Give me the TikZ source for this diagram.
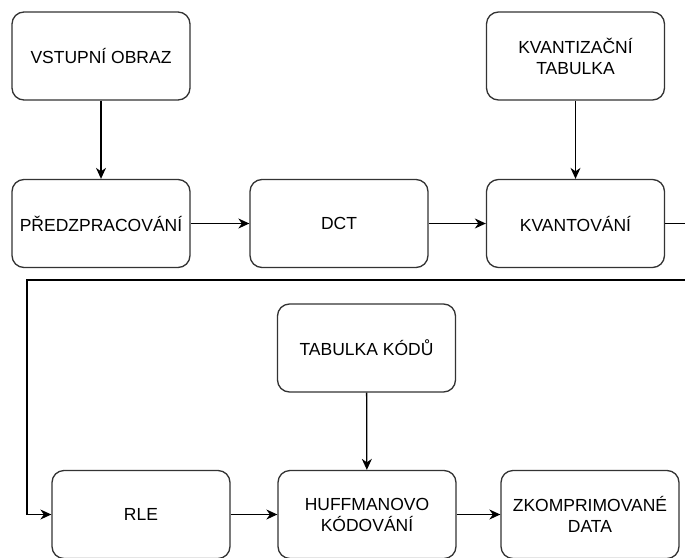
\documentclass[tikz,border=0pt]{standalone}
\usepackage{fontspec}
\setmainfont{Liberation Sans}
\usetikzlibrary{arrows.meta}
\begin{document}
\begin{tikzpicture}[x=1pt,y=-1pt,
  block/.style={draw=black!80, line width=1.3pt, rounded corners=12pt,
    minimum width=178pt, minimum height=88pt, align=center, fill=white,
    font=\fontsize{17.5}{21}\selectfont, inner sep=0pt},
  link/.style={draw=black, line width=1.3pt,
    -{Stealth[length=11pt,width=10pt,inset=3.5pt]}}]
  \useasboundingbox (0,0) rectangle (685,557);
  \clip (0,0) rectangle (685,557);

  % upper row
  \node[block] (vstup) at (101,56) {VSTUPNÍ OBRAZ};
  \node[block] (kvtab) at (575.5,56) {KVANTIZAČNÍ\\TABULKA};
  \node[block] (pred) at (101,223.5) {PŘEDZPRACOVÁNÍ};
  \node[block] (dct) at (339,223.5) {DCT};
  \node[block] (kvant) at (575.5,223.5) {KVANTOVÁNÍ};

  % lower part
  \node[block] (tabk) at (366.5,348) {TABULKA KÓDŮ};
  \node[block] (rle) at (141,514.5) {RLE};
  \node[block] (huff) at (367,514.5) {HUFFMANOVO\\KÓDOVÁNÍ};
  \node[block] (zkomp) at (590,514.5) {ZKOMPRIMOVANÉ\\DATA};

  % wrap-around route from the upper row to the lower row
  \coordinate (r1) at (700,223.5);
  \coordinate (r2) at (700,280);
  \coordinate (r3) at (27,280);

  \draw[link] (vstup) -- (pred);
  \draw[link] (kvtab) -- (kvant);
  \draw[link] (pred) -- (dct);
  \draw[link] (dct) -- (kvant);
  \draw[link] (kvant.east) -- (r1) -- (r2) -- (r3) |- (rle.west);
  \draw[link] (tabk) -- (huff);
  \draw[link] (rle) -- (huff);
  \draw[link] (huff) -- (zkomp);
\end{tikzpicture}
\end{document}
